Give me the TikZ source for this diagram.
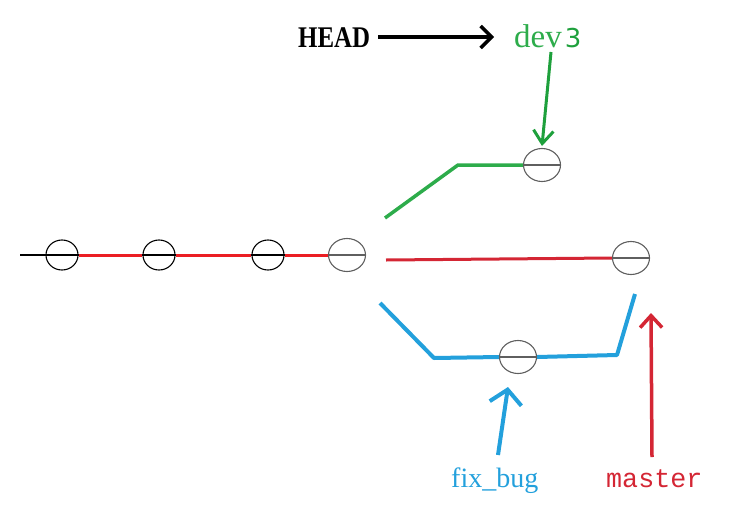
\documentclass[tikz,border=0pt]{standalone}
\usepackage{fontspec}
\setmainfont{Liberation Serif}
\newfontfamily\monofnt{Liberation Mono}
\newfontfamily\sansfnt{DejaVu Sans}
\usetikzlibrary{shapes.geometric,arrows.meta}
\definecolor{lred}{RGB}{235,30,35}
\definecolor{mred}{RGB}{212,38,52}
\definecolor{dgreen}{RGB}{45,172,75}
\definecolor{dgreen2}{RGB}{30,160,60}
\definecolor{lblue}{RGB}{35,160,220}
\definecolor{cgray}{RGB}{95,95,95}
\tikzset{
  commit/.style={draw=black, line width=1.1pt, ellipse, inner sep=0pt, minimum width=32pt, minimum height=30pt},
  bigcommit/.style={commit, draw=cgray, minimum width=37pt, minimum height=33pt},
  axis/.style={line width=1.1pt},
  redline/.style={draw=lred, line width=3pt},
  mline/.style={draw=mred, line width=3pt},
  gline/.style={draw=dgreen, line width=3.5pt, line join=round},
  bline/.style={draw=lblue, line width=4pt, line join=round},
  lbl/.style={inner sep=0pt, anchor=base west},
}
\begin{document}
\begin{tikzpicture}[x=1pt,y=-1pt]
\useasboundingbox (0,0) rectangle (738,514);
% commits
\node[commit] (c1) at (62,255) {};
\node[commit] (c2) at (159,255) {};
\node[commit] (c3) at (268,255) {};
\node[bigcommit] (c4) at (347,255) {};
\node[bigcommit] (c5) at (631,258) {};
\node[bigcommit] (c6) at (542,165) {};
\node[bigcommit] (c7) at (518,357) {};
% free ends
\coordinate (s0) at (20,255);
\coordinate (m0) at (386,260);
\coordinate (g0) at (385,218);
\coordinate (g1) at (458,165);
\coordinate (b0) at (380,303);
\coordinate (b1) at (434,358);
\coordinate (b2) at (617,355);
\coordinate (b3) at (635,294);
% main line
\draw[axis] (s0) -- (c1.west);
\draw[redline] (c1.east) -- (c2.west);
\draw[redline] (c2.east) -- (c3.west);
\draw[redline] (c3.east) -- (c4.west);
\draw[mline] (m0) -- (c5.west);
\draw[gline] (g0) -- (g1) -- (c6.west);
\draw[bline] (b0) -- (b1) -- (c7.west);
\draw[bline] (c7.east) -- (b2) -- (b3);
% lines through commits
\foreach \c in {c1,c2,c3} \draw[axis] (\c.west) -- (\c.east);
\foreach \c in {c4,c5,c6,c7} \draw[axis,cgray] (\c.west) -- (\c.east);
% labels
\node[lbl] (head) at (298,47) {\fontsize{30}{30}\selectfont\bfseries\scalebox{0.83}[1]{HEAD}};
\node[lbl, text=dgreen] (dev) at (514,47) {\fontsize{33}{33}\selectfont dev\hspace{3pt}{\sansfnt\fontsize{26}{26}\selectfont\color{dgreen2}3}};
\node[lbl, text=lblue] (fix) at (451,487) {\fontsize{28}{28}\selectfont fix\_bug};
\node[lbl, text=mred] (mas) at (606,487) {\monofnt\fontsize{26.7}{26.7}\selectfont master};
% pointer arrows
\coordinate (hs) at (378,37);
\coordinate (he) at (494,37);
\coordinate (ds) at (551,52);
\coordinate (de) at (542,146);
\coordinate (fs) at (498,455);
\coordinate (fe) at (508,387);
\coordinate (ms) at (652,457);
\coordinate (me) at (651,313);
\draw[-{Straight Barb[length=11pt,width=22pt]}, line width=3.5pt, black] (hs) -- (he);
\draw[-{Straight Barb[length=13pt,width=20pt]}, line width=3pt, dgreen2] (ds) -- (de);
\draw[-{Straight Barb[length=14pt,width=32pt]}, line width=4pt, lblue] (fs) -- (fe);
\draw[-{Straight Barb[length=12pt,width=22pt]}, line width=3.5pt, mred] (ms) -- (me);
\end{tikzpicture}
\end{document}
